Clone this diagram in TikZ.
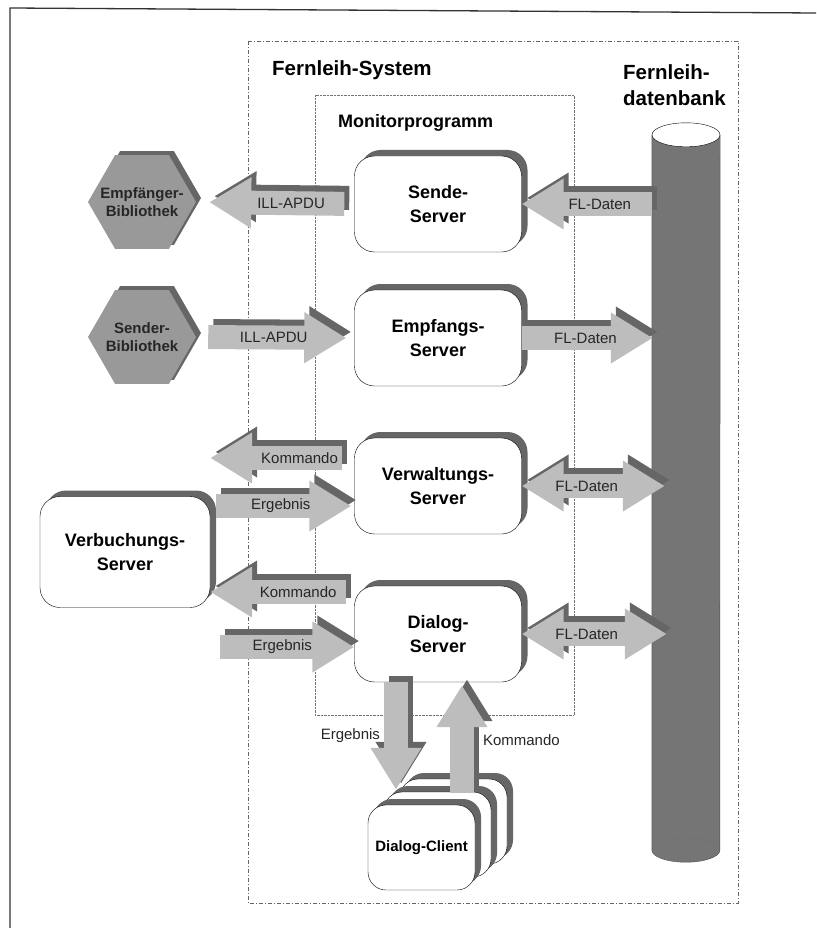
\documentclass[tikz,border=0pt]{standalone}
\usepackage{fontspec}
\setmainfont{Liberation Sans}
\usepackage{tikz}
\usetikzlibrary{calc,shapes.geometric,shadows,arrows.meta}

\definecolor{pfeilgrau}{gray}{0.74}
\definecolor{schattengrau}{gray}{0.40}
\definecolor{dbgrau}{gray}{0.46}
\definecolor{bibgrau}{gray}{0.60}

\tikzset{
  server/.style={draw, fill=white, rounded corners=20pt, minimum width=167pt,
    minimum height=96pt, align=center, font=\fontsize{18}{24}\selectfont\bfseries,
    drop shadow={shadow xshift=6pt, shadow yshift=6pt, fill=schattengrau, opacity=1}},
  client/.style={server, rounded corners=18pt, minimum width=107pt, minimum height=85pt,
    font=\fontsize{15}{18}\selectfont\bfseries,
    drop shadow={shadow xshift=5pt, shadow yshift=5pt, fill=schattengrau, opacity=1}},
  bib/.style={regular polygon, regular polygon sides=6, minimum size=108pt, inner sep=0pt,
    fill=bibgrau,
    drop shadow={shadow xshift=5pt, shadow yshift=4pt, fill=schattengrau, opacity=1}},
  bibtext/.style={align=center, text=black!85, font=\fontsize{15}{18}\selectfont\bfseries},
  pfeil/.style={line width=24pt, draw=pfeilgrau, >={Triangle[width=48pt,length=42pt]}, ->},
  pfeilschatten/.style={pfeil, draw=schattengrau, transform canvas={xshift=5pt,yshift=6pt}},
  beschr/.style={font=\fontsize{15}{18}\selectfont, inner sep=0pt, outer sep=0pt, text=black!85},
  titel/.style={font=\fontsize{20.5}{26}\selectfont\bfseries, inner sep=0pt, align=left},
}

% block arrow with shadow: [options]{from}{to}{label options}{label}
\newcommand\blockpfeil[5][]{%
  \draw[pfeilschatten,#1] (#2) -- (#3);
  \draw[pfeil,#1] (#2) -- (#3) node[beschr,#4]{#5};}

\begin{document}
\begin{tikzpicture}[x=1pt,y=-1pt]
\useasboundingbox (0,0) rectangle (816,928);

% frame of the page
\draw[line width=1.3pt, black!80] (10,928) -- (10,8) -- (816,13);

% Fernleih-System and Monitorprogramm
\draw[black!60, dash pattern=on 4pt off 2pt on 1pt off 2pt] (248,41) rectangle (738,903);
\draw[black!55, densely dotted] (315,95) rectangle (574,715);
\node[titel, anchor=west] at (272,70) {Fernleih-System};
\node[titel, anchor=west] at (623,85) {Fernleih-\\datenbank};
\node[titel, font=\fontsize{18}{22}\selectfont\bfseries, anchor=west] at (338,123) {Monitorprogramm};

% Fernleihdatenbank
\node[fill=dbgrau, minimum width=68pt, minimum height=715pt, inner sep=0pt] (db) at (686,492.5) {};
\fill[dbgrau] (db.south) ellipse[x radius=34pt, y radius=12pt];
\draw[black!70] (db.north west) -- (db.south west)
  arc[start angle=180, end angle=360, x radius=34pt, y radius=12pt] -- (db.north east);
\draw[black!60, densely dotted] (db.south west) arc[start angle=180, end angle=0, x radius=34pt, y radius=12pt];
\draw[fill=white] (db.north) ellipse[x radius=34pt, y radius=12pt];

% Server
\node[server] (sende) at (438,204) {Sende-\\Server};
\node[server] (empfang) at (438,338) {Empfangs-\\Server};
\node[server] (verw) at (438,486) {Verwaltungs-\\Server};
\node[server] (dialog) at (438,634) {Dialog-\\Server};
\node[server, minimum width=170pt, minimum height=111pt] (verb) at (125,552) {Verbuchungs-\\Server};

% Bibliotheken
\node[bib, label={[bibtext]center:Empfänger-\\Bibliothek}] (empf) at (142,202) {};
\node[bib, label={[bibtext]center:Sender-\\Bibliothek}] (sender) at (142,337) {};

% Dialog-Clients
\node[client] (client3) at (453.5,821.5) {};
\node[client] (client2) at (437.5,834.5) {};
\node[client] (client) at (421.5,847.5) {Dialog-Client};

\coordinate (kom1) at ([yshift=28pt]verw.west);
\coordinate (erg1) at ([yshift=-20pt]verw.west);
\coordinate (kom2) at ([yshift=42pt]dialog.west);
\coordinate (erg2) at ([yshift=-13pt]dialog.west);

% Pfeile
\blockpfeil[shorten <=10pt, shorten >=13pt]{sende.west}{empf.east}{pos=0.4}{ILL-APDU}
\blockpfeil{db.west |- sende.east}{sende.east}{pos=0.4}{FL-Daten}
\blockpfeil[shorten <=12pt, shorten >=8pt]{sender.east}{empfang.west}{pos=0.49}{ILL-APDU}
\blockpfeil[shorten >=-1pt]{empfang.east}{db.west |- empfang.east}{pos=0.49}{FL-Daten}
\blockpfeil[<->, shorten >=-13pt]{verw.east}{db.west |- verw.east}{pos=0.5}{FL-Daten}
\blockpfeil[shorten <=12pt]{kom1}{kom1 -| verb.east}{pos=0.38}{Kommando}
\blockpfeil[shorten <=6pt, shorten >=3pt]{erg1 -| verb.east}{erg1}{pos=0.49}{Ergebnis}
\blockpfeil[shorten <=8pt]{kom2}{kom2 -| verb.east}{pos=0.39}{Kommando}
\blockpfeil[shorten <=10pt]{erg2 -| verb.east}{erg2}{pos=0.5}{Ergebnis}
\blockpfeil[<->, shorten >=-15pt]{dialog.east}{db.west |- dialog.east}{pos=0.5}{FL-Daten}
\blockpfeil{[xshift=-42pt]dialog.south}{[xshift=-25.5pt,yshift=15pt]client.north}{pos=0.5,left=16pt}{Ergebnis}
\blockpfeil[shorten >=3pt]{[xshift=40.5pt,yshift=12pt]client.north}{[xshift=24pt]dialog.south}{pos=0.48,right=21pt}{Kommando}
\end{tikzpicture}
\end{document}
